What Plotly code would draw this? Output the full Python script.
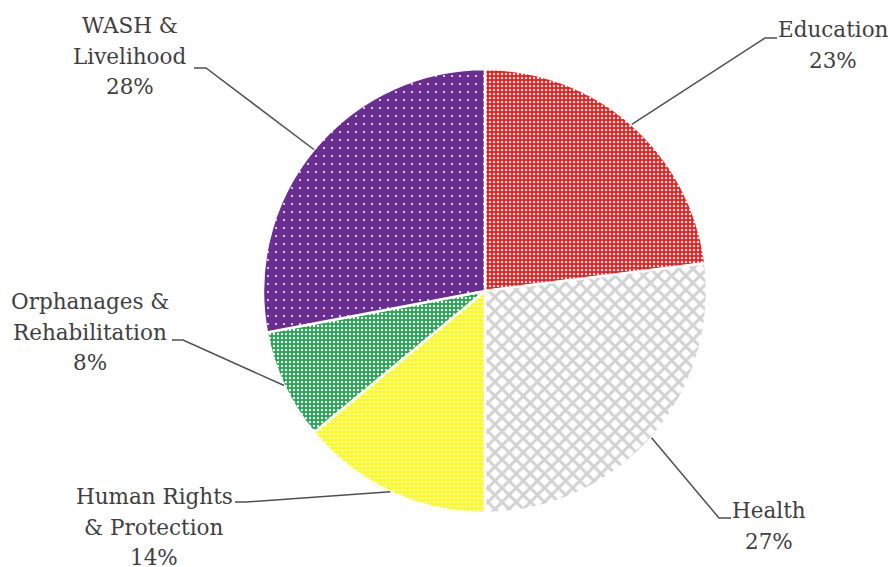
import math
import plotly.graph_objects as go

# ---- data ----
categories = ["Education", "Health", "Human Rights & Protection",
              "Orphanages & Rehabilitation", "WASH & Livelihood"]
values = [23, 27, 14, 8, 28]
label_lines = [["Education"], ["Health"], ["Human Rights", "& Protection"],
               ["Orphanages &", "Rehabilitation"], ["WASH &", "Livelihood"]]

# ---- styles ----
W, H = 893, 567
CX, CY, R = 485, 291, 222          # pie centre / radius in pixels
bg_colors = ["#ff1414", "#ffffff", "#ffff00", "#1fa64e", "#6a2d91"]
fg_colors = ["#ffffff", "#d2d2d2", "#ffffff", "#ffffff", "#ffffff"]
pat_shape = [".", "x", ".", ".", "."]
pat_size = [4, 10, 4, 4, 8]
pat_solid = [0.3, 0.5, 0.3, 0.3, 0.05]
TEXT_COLOR = "#404040"
FONT = "DejaVu Serif"
FS = 21.5
LINE_STEP = 30.5

# label layout (pixels): text centre x, first baseline y, elbow point, line end
label_pos = [
    dict(cx=833, by=37, elbow=(765, 38), end=(777, 38)),
    dict(cx=769, by=518, elbow=(719, 518), end=(731, 518)),
    dict(cx=154, by=504, elbow=(247, 502), end=(235, 502)),
    dict(cx=90, by=309, elbow=(183, 340), end=(172, 340)),
    dict(cx=130, by=33, elbow=(206, 68), end=(194, 68)),
]


def px(x):
    return x / W


def py(y):
    return 1 - y / H


fig = go.Figure(go.Pie(
    labels=categories,
    values=values,
    sort=False,
    direction="clockwise",
    rotation=0,
    textinfo="none",
    hoverinfo="label+percent",
    marker=dict(
        colors=bg_colors,
        line=dict(color="white", width=2.5),
        pattern=dict(shape=pat_shape, bgcolor=bg_colors, fgcolor=fg_colors,
                     size=pat_size, solidity=pat_solid, fillmode="replace"),
    ),
    domain=dict(x=[px(CX - R), px(CX + R)], y=[py(CY + R), py(CY - R)]),
    showlegend=False,
))

total = sum(values)
cum = 0
shapes, annotations = [], []
for i, v in enumerate(values):
    mid = (cum + v / 2) / total * 2 * math.pi
    cum += v
    ex = CX + R * math.sin(mid)
    ey = CY - R * math.cos(mid)
    lp = label_pos[i]
    (bx, by_), (qx, qy) = lp["elbow"], lp["end"]
    path = f"M {px(ex)} {py(ey)} L {px(bx)} {py(by_)} L {px(qx)} {py(qy)}"
    shapes.append(dict(type="path", path=path, xref="paper", yref="paper",
                       line=dict(color="#505050", width=1.5)))
    lines = label_lines[i] + [f"{round(v / total * 100)}%"]
    for j, t in enumerate(lines):
        base = lp["by"] + j * LINE_STEP
        annotations.append(dict(
            text=t, x=px(lp["cx"]), y=py(base - 0.346 * FS),
            xref="paper", yref="paper", xanchor="center", yanchor="middle",
            showarrow=False, borderpad=0,
            font=dict(family=FONT, size=FS, color=TEXT_COLOR)))

fig.update_layout(
    width=W, height=H,
    margin=dict(l=0, r=0, t=0, b=0),
    paper_bgcolor="white", plot_bgcolor="white",
    font=dict(family=FONT),
    shapes=shapes, annotations=annotations,
)

fig.write_html("out.html")
